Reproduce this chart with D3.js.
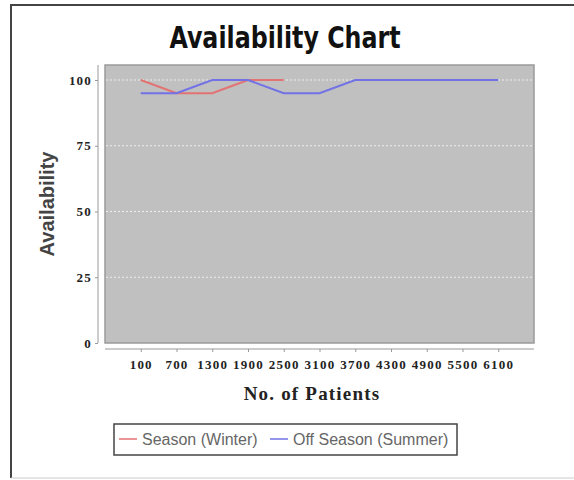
<!DOCTYPE html>
<html>
<meta charset="utf-8">
<style>
    body { margin: 0; background: #fff; }
    svg { display: block; }
    .tick text { font-family: 'Liberation Serif', serif; font-weight: bold; font-size: 13px; letter-spacing: 1.2px; fill: #222; }
</style>
<body>
<svg id="chart" width="574" height="480"></svg>
<script src="https://d3js.org/d3.v7.min.js"></script>
<script>
    const patients = ["100", "700", "1300", "1900", "2500", "3100", "3700", "4300", "4900", "5500", "6100"];
    const winter = [100, 95, 95, 100, 100];
    const summer = [95, 95, 100, 100, 95, 95, 100, 100, 100, 100, 100];
    const yTicks = [0, 25, 50, 75, 100];

    const chart = d3.select("#chart");

    const plotLeft = 105, plotRight = 534, plotTop = 65, plotBottom = 343;

    // outer frame (right edge is cut off in the reference)
    chart.append("path")
        .attr("d", "M575,5 H11 V478")
        .attr("fill", "none")
        .attr("stroke", "#444")
        .attr("stroke-width", 2);
    chart.append("line")
        .attr("x1", 11).attr("x2", 574).attr("y1", 478).attr("y2", 478)
        .attr("stroke", "#ccc");

    // title: condensed bold, squeezed a little horizontally
    chart.append("text")
        .text("Availability Chart")
        .attr("transform", "translate(285,48) scale(0.88,1)")
        .attr("text-anchor", "middle")
        .style("font-family", "'DejaVu Sans Condensed', 'DejaVu Sans', sans-serif")
        .style("font-weight", "bold")
        .style("font-size", "30px")
        .style("fill", "#111");

    const xScale = d3.scalePoint()
        .domain(patients)
        .range([plotLeft, plotRight])
        .padding(1);

    const yScale = d3.scaleLinear()
        .domain([0, 105.7])
        .range([plotBottom, plotTop]);

    // plot background
    chart.append("rect")
        .attr("x", plotLeft).attr("y", plotTop)
        .attr("width", plotRight - plotLeft).attr("height", plotBottom - plotTop)
        .attr("fill", "#c0c0c0")
        .attr("stroke", "#9a9a9a")
        .attr("stroke-width", 1.5);

    // gridlines
    chart.append("g")
        .selectAll("line")
        .data(yTicks.filter(d => d > 0))
        .enter()
        .append("line")
        .attr("x1", plotLeft + 1).attr("x2", plotRight - 1)
        .attr("y1", d => yScale(d)).attr("y2", d => yScale(d))
        .attr("stroke", "#eee")
        .attr("stroke-width", 1)
        .attr("stroke-dasharray", "2,2");

    const yAxis = chart.append("g")
        .attr("transform", "translate(" + 98 + ",0)")
        .call(d3.axisLeft(yScale).tickValues(yTicks).tickSize(3).tickPadding(3));
    yAxis.select(".domain").attr("d", "M0," + plotTop + "V" + plotBottom).attr("stroke", "#999");
    yAxis.selectAll(".tick line").attr("stroke", "#999");

    const xAxis = chart.append("g")
        .attr("transform", "translate(0," + 349 + ")")
        .call(d3.axisBottom(xScale).tickSize(3).tickPadding(8));
    xAxis.select(".domain").attr("d", "M" + plotLeft + ",0H" + plotRight).attr("stroke", "#999");
    xAxis.selectAll(".tick line").attr("stroke", "#999");

    const line = d3.line()
        .x((d, i) => xScale(patients[i]))
        .y(d => yScale(d));

    chart.append("path")
        .datum(winter)
        .attr("d", line)
        .attr("fill", "none")
        .attr("stroke", "#e37373")
        .attr("stroke-width", 2);

    chart.append("path")
        .datum(summer)
        .attr("d", line)
        .attr("fill", "none")
        .attr("stroke", "#7272e6")
        .attr("stroke-width", 2);

    chart.append("text")
        .text("No. of Patients")
        .attr("x", 312).attr("y", 400)
        .attr("text-anchor", "middle")
        .style("font-family", "'Liberation Serif', serif")
        .style("font-weight", "bold")
        .style("font-size", "19px")
        .style("letter-spacing", "1.2px")
        .style("fill", "#222");

    chart.append("text")
        .attr("transform", "translate(" + 54 + "," + 204 + ")rotate(-90)")
        .text("Availability")
        .attr("text-anchor", "middle")
        .style("font-family", "'Liberation Sans', sans-serif")
        .style("font-weight", "bold")
        .style("font-size", "20px")
        .style("fill", "#444");

    // legend
    const legend = chart.append("g");
    legend.append("rect")
        .attr("x", 114).attr("y", 424)
        .attr("width", 343).attr("height", 31)
        .attr("fill", "#fff")
        .attr("stroke", "#444")
        .attr("stroke-width", 1.5);

    const legendItems = [
        { label: "Season (Winter)", color: "#e37373", x: 119 },
        { label: "Off Season (Summer)", color: "#7272e6", x: 270 }
    ];
    legend.selectAll("line")
        .data(legendItems)
        .enter()
        .append("line")
        .attr("x1", d => d.x).attr("x2", d => d.x + 18)
        .attr("y1", 439).attr("y2", 439)
        .attr("stroke", d => d.color)
        .attr("stroke-width", 1.5);
    legend.selectAll("text")
        .data(legendItems)
        .enter()
        .append("text")
        .attr("x", d => d.x + 23).attr("y", 445)
        .text(d => d.label)
        .style("font-family", "'Liberation Sans', sans-serif")
        .style("font-size", "16px")
        .style("fill", "#666");
</script>
</body>
</html>
